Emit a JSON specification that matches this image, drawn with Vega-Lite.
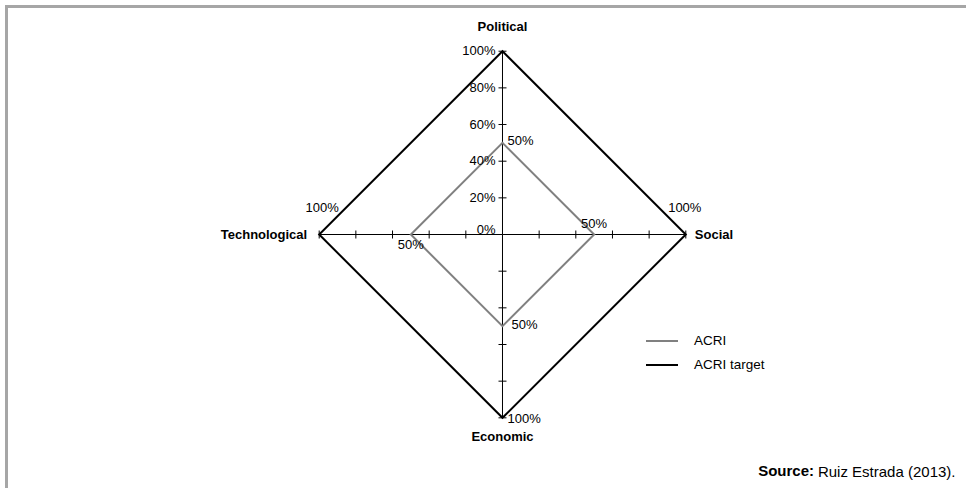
{
  "$schema": "https://vega.github.io/schema/vega-lite/v6.json",
  "width": 959.5,
  "height": 481.5,
  "autosize": {"type": "none"},
  "padding": {"left": 6.5, "top": 6.5, "right": 0, "bottom": 0},
  "background": "white",
  "config": {
    "font": "Liberation Sans",
    "view": {"stroke": "#a6a6a6", "strokeWidth": 3, "strokeDash": [959.5, 1441, 490]},
    "text": {"font": "Liberation Sans", "fontSize": 13, "color": "#000000"}
  },
  "title": {
    "text": "Source:",
    "orient": "bottom",
    "anchor": "end",
    "fontSize": 15,
    "fontWeight": "bold",
    "color": "#000000",
    "baseline": "alphabetic",
    "dx": -152,
    "offset": -12
  },
  "data": {
    "values": [
      {"kind": "axis", "axis": "Political", "value": 100},
      {"kind": "axis", "axis": "Social", "value": 100},
      {"kind": "axis", "axis": "Economic", "value": 100},
      {"kind": "axis", "axis": "Technological", "value": 100},
      {"kind": "tick", "axis": "Political", "value": 20},
      {"kind": "tick", "axis": "Political", "value": 40},
      {"kind": "tick", "axis": "Political", "value": 60},
      {"kind": "tick", "axis": "Political", "value": 80},
      {"kind": "tick", "axis": "Political", "value": 100},
      {"kind": "tick", "axis": "Social", "value": 20},
      {"kind": "tick", "axis": "Social", "value": 40},
      {"kind": "tick", "axis": "Social", "value": 60},
      {"kind": "tick", "axis": "Social", "value": 80},
      {"kind": "tick", "axis": "Social", "value": 100},
      {"kind": "tick", "axis": "Economic", "value": 20},
      {"kind": "tick", "axis": "Economic", "value": 40},
      {"kind": "tick", "axis": "Economic", "value": 60},
      {"kind": "tick", "axis": "Economic", "value": 80},
      {"kind": "tick", "axis": "Economic", "value": 100},
      {"kind": "tick", "axis": "Technological", "value": 20},
      {"kind": "tick", "axis": "Technological", "value": 40},
      {"kind": "tick", "axis": "Technological", "value": 60},
      {"kind": "tick", "axis": "Technological", "value": 80},
      {"kind": "tick", "axis": "Technological", "value": 100},
      {"kind": "scale", "axis": "Political", "value": 0},
      {"kind": "scale", "axis": "Political", "value": 20},
      {"kind": "scale", "axis": "Political", "value": 40},
      {"kind": "scale", "axis": "Political", "value": 60},
      {"kind": "scale", "axis": "Political", "value": 80},
      {"kind": "scale", "axis": "Political", "value": 100},
      {"kind": "radar", "series": "ACRI", "axis": "Political", "value": 50, "ord": 1},
      {"kind": "radar", "series": "ACRI", "axis": "Social", "value": 50, "ord": 2},
      {"kind": "radar", "series": "ACRI", "axis": "Economic", "value": 50, "ord": 3},
      {"kind": "radar", "series": "ACRI", "axis": "Technological", "value": 50, "ord": 4},
      {"kind": "radar", "series": "ACRI", "axis": "Political", "value": 50, "ord": 5},
      {"kind": "radar", "series": "ACRI target", "axis": "Political", "value": 100, "ord": 1},
      {"kind": "radar", "series": "ACRI target", "axis": "Social", "value": 100, "ord": 2},
      {"kind": "radar", "series": "ACRI target", "axis": "Economic", "value": 100, "ord": 3},
      {"kind": "radar", "series": "ACRI target", "axis": "Technological", "value": 100, "ord": 4},
      {"kind": "radar", "series": "ACRI target", "axis": "Political", "value": 100, "ord": 5}
    ]
  },
  "transform": [
    {"calculate": "datum.axis === 'Social' ? datum.value : (datum.axis === 'Technological' ? -datum.value : 0)", "as": "x"},
    {"calculate": "datum.axis === 'Political' ? datum.value : (datum.axis === 'Economic' ? -datum.value : 0)", "as": "y"},
    {"calculate": "datum.value + '%'", "as": "pct"}
  ],
  "encoding": {
    "x": {
      "field": "x",
      "type": "quantitative",
      "scale": {"domain": [-270.59, 252.87], "nice": false, "zero": false},
      "axis": {
        "orient": "bottom",
        "domain": false,
        "ticks": false,
        "labels": false,
        "grid": false,
        "title": "Ruiz Estrada (2013).",
        "titleFont": "Liberation Sans",
        "titleFontSize": 15,
        "titleFontWeight": "normal",
        "titleColor": "#000000",
        "titleX": 948.5,
        "titleY": -12,
        "titleAlign": "right",
        "titleBaseline": "alphabetic"
      }
    },
    "y": {
      "field": "y",
      "type": "quantitative",
      "scale": {"domain": [-138.29, 124.39], "nice": false, "zero": false},
      "axis": null
    }
  },
  "layer": [
    {
      "transform": [{"filter": "datum.kind === 'axis'"}],
      "mark": {"type": "rule", "color": "#000000", "strokeWidth": 1},
      "encoding": {"x2": {"datum": 0}, "y2": {"datum": 0}}
    },
    {
      "transform": [{"filter": "datum.kind === 'tick' && (datum.axis === 'Political' || datum.axis === 'Economic')"}],
      "mark": {"type": "tick", "orient": "horizontal", "size": 8, "thickness": 1, "color": "#000000", "opacity": 1}
    },
    {
      "transform": [{"filter": "datum.kind === 'tick' && (datum.axis === 'Social' || datum.axis === 'Technological')"}],
      "mark": {"type": "tick", "orient": "vertical", "size": 8, "thickness": 1, "color": "#000000", "opacity": 1}
    },
    {
      "transform": [{"filter": "datum.kind === 'radar'"}],
      "mark": {"type": "line", "strokeWidth": 2, "strokeJoin": "miter", "strokeCap": "square"},
      "encoding": {
        "color": {
          "field": "series",
          "type": "nominal",
          "scale": {"domain": ["ACRI", "ACRI target"], "range": ["#808080", "#000000"]},
          "legend": {
            "orient": "none",
            "legendX": 638.5,
            "legendY": 317.5,
            "title": null,
            "padding": 0,
            "symbolType": "stroke",
            "symbolSize": 1024,
            "symbolStrokeWidth": 2,
            "labelFont": "Liberation Sans",
            "labelFontSize": 13.5,
            "labelColor": "#000000",
            "labelOffset": 15,
            "rowPadding": 0
          }
        },
        "order": {"field": "ord", "type": "quantitative"}
      }
    },
    {
      "transform": [{"filter": "datum.kind === 'scale' && datum.value > 0"}],
      "mark": {"type": "text", "align": "right", "baseline": "middle", "dx": -7},
      "encoding": {"text": {"field": "pct"}}
    },
    {
      "transform": [{"filter": "datum.kind === 'scale' && datum.value === 0"}],
      "mark": {"type": "text", "align": "right", "baseline": "middle", "dx": -7, "dy": -5},
      "encoding": {"text": {"field": "pct"}}
    },
    {
      "transform": [{"filter": "datum.kind === 'radar' && datum.ord < 5 && datum.series === 'ACRI' && datum.axis === 'Political'"}],
      "mark": {"type": "text", "align": "left", "baseline": "middle", "dx": 5, "dy": -2},
      "encoding": {"text": {"field": "pct"}}
    },
    {
      "transform": [{"filter": "datum.kind === 'radar' && datum.ord < 5 && datum.series === 'ACRI' && datum.axis === 'Social'"}],
      "mark": {"type": "text", "align": "center", "baseline": "middle", "dy": -11},
      "encoding": {"text": {"field": "pct"}}
    },
    {
      "transform": [{"filter": "datum.kind === 'radar' && datum.ord < 5 && datum.series === 'ACRI' && datum.axis === 'Economic'"}],
      "mark": {"type": "text", "align": "left", "baseline": "middle", "dx": 9, "dy": -1},
      "encoding": {"text": {"field": "pct"}}
    },
    {
      "transform": [{"filter": "datum.kind === 'radar' && datum.ord < 5 && datum.series === 'ACRI' && datum.axis === 'Technological'"}],
      "mark": {"type": "text", "align": "center", "baseline": "middle", "dy": 10},
      "encoding": {"text": {"field": "pct"}}
    },
    {
      "transform": [{"filter": "datum.kind === 'radar' && datum.ord < 5 && datum.series === 'ACRI target' && datum.axis === 'Social'"}],
      "mark": {"type": "text", "align": "center", "baseline": "middle", "dx": -1, "dy": -27},
      "encoding": {"text": {"field": "pct"}}
    },
    {
      "transform": [{"filter": "datum.kind === 'radar' && datum.ord < 5 && datum.series === 'ACRI target' && datum.axis === 'Technological'"}],
      "mark": {"type": "text", "align": "center", "baseline": "middle", "dx": 3, "dy": -27},
      "encoding": {"text": {"field": "pct"}}
    },
    {
      "transform": [{"filter": "datum.kind === 'radar' && datum.ord < 5 && datum.series === 'ACRI target' && datum.axis === 'Economic'"}],
      "mark": {"type": "text", "align": "left", "baseline": "middle", "dx": 5, "dy": 1},
      "encoding": {"text": {"field": "pct"}}
    },
    {
      "transform": [{"filter": "datum.kind === 'axis' && datum.axis === 'Political'"}],
      "mark": {"type": "text", "align": "center", "baseline": "middle", "dy": -24, "fontWeight": "bold"},
      "encoding": {"text": {"field": "axis"}}
    },
    {
      "transform": [{"filter": "datum.kind === 'axis' && datum.axis === 'Social'"}],
      "mark": {"type": "text", "align": "left", "baseline": "middle", "dx": 9, "fontWeight": "bold"},
      "encoding": {"text": {"field": "axis"}}
    },
    {
      "transform": [{"filter": "datum.kind === 'axis' && datum.axis === 'Economic'"}],
      "mark": {"type": "text", "align": "center", "baseline": "middle", "dy": 19, "fontWeight": "bold"},
      "encoding": {"text": {"field": "axis"}}
    },
    {
      "transform": [{"filter": "datum.kind === 'axis' && datum.axis === 'Technological'"}],
      "mark": {"type": "text", "align": "right", "baseline": "middle", "dx": -12, "fontWeight": "bold"},
      "encoding": {"text": {"field": "axis"}}
    }
  ]
}
